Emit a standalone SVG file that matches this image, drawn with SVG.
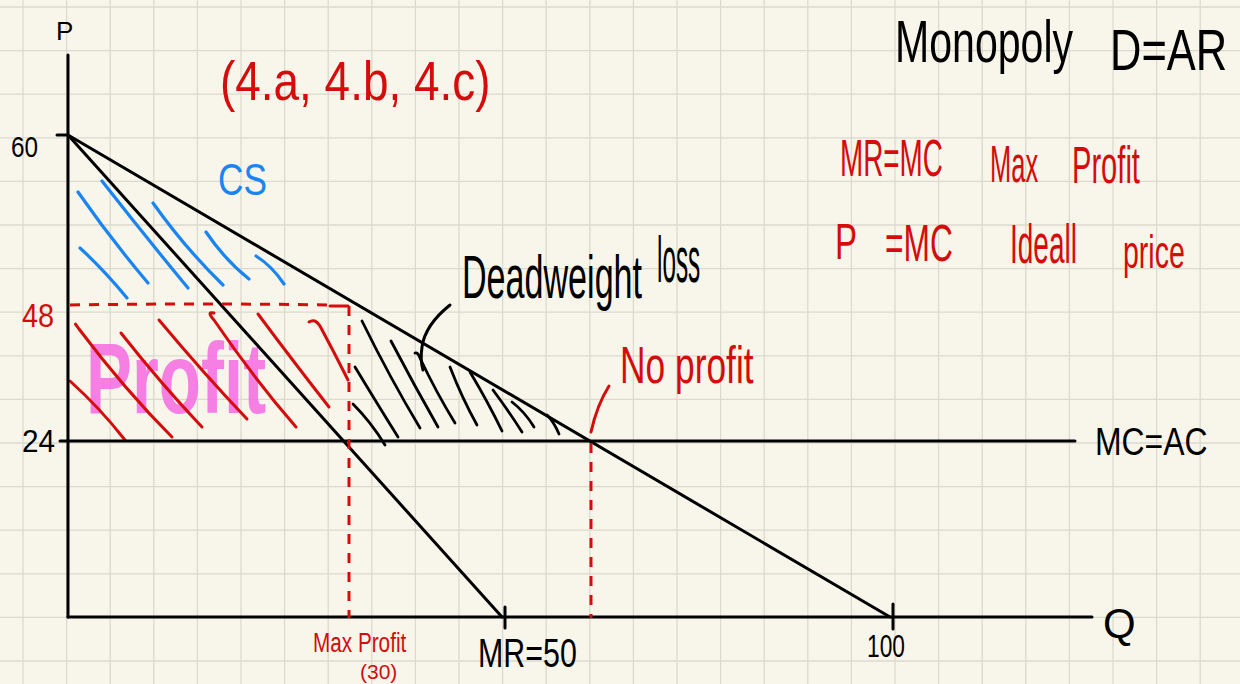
<svg xmlns="http://www.w3.org/2000/svg" width="1240" height="684" viewBox="0 0 1240 684">
<style>
.bk{stroke:#000;stroke-width:3;fill:none;stroke-linecap:round;stroke-linejoin:round}
.rd{stroke:#d40c0c;stroke-width:3;fill:none;stroke-linecap:round}
.dash{stroke:#d40c0c;stroke-width:3;fill:none;stroke-dasharray:10 9}
.bl{stroke:#1a85f0;stroke-width:3.2;fill:none;stroke-linecap:round}
.hb{stroke:#000;stroke-width:2.8;fill:none;stroke-linecap:round}
.t{font-family:"Liberation Sans",Arial,sans-serif}
.tb{fill:#000}
.tr{fill:#d40c0c}
</style>
<rect width="1240" height="684" fill="#f8f6eb"/>
<g id="grid" stroke="#dcdace" stroke-width="1.3">
<path d="M23 0V684M66.6 0V684M110.2 0V684M153.8 0V684M197.4 0V684M241 0V684M284.6 0V684M328.2 0V684M371.8 0V684M415.4 0V684M459 0V684M502.6 0V684M546.2 0V684M589.8 0V684M633.4 0V684M677 0V684M720.6 0V684M764.2 0V684M807.8 0V684M851.4 0V684M895 0V684M938.6 0V684M982.2 0V684M1025.8 0V684M1069.4 0V684M1113 0V684M1156.6 0V684M1200.2 0V684"/>
<path d="M0 7H1240M0 50.6H1240M0 94.2H1240M0 137.8H1240M0 181.4H1240M0 225H1240M0 268.6H1240M0 312.2H1240M0 355.8H1240M0 399.4H1240M0 443H1240M0 486.6H1240M0 530.2H1240M0 573.8H1240M0 617.4H1240M0 661H1240"/>
</g>
<g id="profit-label">
<text class="t" transform="translate(86 413) scale(0.69 1)" font-size="100" font-weight="bold" fill="#f46ae2" fill-opacity="0.85">Profit</text>
</g>
<g id="cs-hatch">
<path class="bl" d="M78 192Q110 238 148 283"/>
<path class="bl" d="M102 181Q145 236 188 288"/>
<path class="bl" d="M80 248Q104 270 127 298"/>
<path class="bl" d="M153 203Q185 248 223 285"/>
<path class="bl" d="M206 232Q225 260 249 279"/>
<path class="bl" d="M256 256Q272 266 284 284"/>
</g>
<g id="profit-hatch">
<path class="rd" d="M70 381Q100 408 125 440"/>
<path class="rd" d="M76 325Q74 322 79 329Q125 390 172 437"/>
<path class="rd" d="M121 333Q162 385 202 427"/>
<path class="rd" d="M159 320Q205 375 247 419"/>
<path class="rd" d="M214 313Q206 311 214 320Q255 380 296 427"/>
<path class="rd" d="M258 314Q296 365 329 407"/>
<path class="rd" d="M309 322Q315 318 320 326Q334 352 348 380"/>
</g>
<g id="dwl-hatch">
<path class="hb" d="M362 321Q390 378 420 428"/>
<path class="hb" d="M355 367Q378 405 398 437"/>
<path class="hb" d="M353 404Q371 422 385 445"/>
<path class="hb" d="M391 341Q414 385 438 427"/>
<path class="hb" d="M415 353Q418 352 420 358Q436 392 455 423"/>
<path class="hb" d="M450 367Q462 398 477 425"/>
<path class="hb" d="M470 372Q488 402 502 431"/>
<path class="hb" d="M493 390Q508 410 522 432"/>
<path class="hb" d="M512 402Q525 412 534 427"/>
<path class="hb" d="M547 415Q554 422 559 434"/>
</g>
<g id="connectors">
<path class="bk" d="M68 55V617"/>
<path class="bk" d="M68 617H1092"/>
<path class="bk" d="M57 135H68"/>
<path class="bk" d="M60 441H1075"/>
<path class="bk" d="M68 135L890 617"/>
<path class="bk" d="M68 135L502 617"/>
<path class="bk" d="M505 607V628"/>
<path class="bk" d="M893 604V629"/>
<path class="dash" d="M70 305Q200 303 330 305"/>
<path class="rd" d="M330 306H348"/>
<path class="dash" d="M349 306V618"/>
<path class="dash" d="M591 443V618"/>
<path class="bk" d="M450 305Q425 325 422 347Q420 360 423 370"/>
<path class="rd" d="M609 386Q597 405 591 432"/>
</g>
<g id="labels">
<text class="t tb" x="56" y="40" font-size="26">P</text>
<text class="t tb" transform="translate(11 157) scale(0.81 1)" font-size="30">60</text>
<text class="t tr" transform="translate(220 100) scale(0.82 1)" font-size="56">(4.a, 4.b, 4.c)</text>
<text class="t" transform="translate(218 195) scale(0.8 1)" font-size="44" fill="#1a85f0">CS</text>
<text class="t tb" transform="translate(895 62) scale(0.685 1)" font-size="60">Monopoly</text>
<text class="t tb" transform="translate(1110 70) scale(0.75 1)" font-size="58">D=AR</text>
<text class="t tr" transform="translate(840 176) scale(0.536 1)" font-size="52">MR=MC</text>
<text class="t tr" transform="translate(990 182) scale(0.49 1)" font-size="52">Max</text>
<text class="t tr" transform="translate(1072 183) scale(0.56 1)" font-size="52">Profit</text>
<text class="t tr" transform="translate(835 259) scale(0.66 1)" font-size="50">P</text>
<text class="t tr" transform="translate(885 261) scale(0.61 1)" font-size="52">=MC</text>
<text class="t tr" transform="translate(1010 263) scale(0.5 1)" font-size="56">Ideall</text>
<text class="t tr" transform="translate(1123 268) scale(0.62 1)" font-size="46">price</text>
<text class="t tb" transform="translate(462 298) scale(0.55 1)" font-size="62">Deadweight</text>
<text class="t tb" transform="translate(657 282) scale(0.38 1)" font-size="64">loss</text>
<text class="t tr" transform="translate(620 383) scale(0.68 1)" font-size="52">No profit</text>
<text class="t tr" transform="translate(22 327) scale(0.85 1)" font-size="34">48</text>
<text class="t tb" transform="translate(22 452) scale(0.93 1)" font-size="32">24</text>
<text class="t tb" transform="translate(1095 455) scale(0.84 1)" font-size="38">MC=AC</text>
<text class="t tb" x="1103" y="638" font-size="42">Q</text>
<text class="t tr" transform="translate(313 652) scale(0.74 1)" font-size="28">Max Profit</text>
<text class="t tr" x="360" y="679" font-size="21">(30)</text>
<text class="t tb" transform="translate(478 667) scale(0.76 1)" font-size="40">MR=50</text>
<text class="t tb" transform="translate(867 657) scale(0.71 1)" font-size="32">100</text>
</g>
</svg>
